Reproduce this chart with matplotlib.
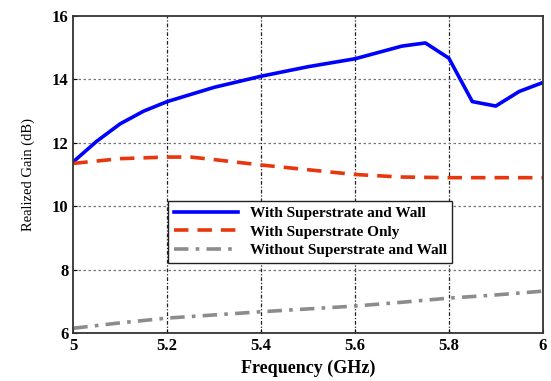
import numpy as np
import matplotlib.pyplot as plt

# frequency samples (GHz) and realized gain (dB)
f_wall = [5.0, 5.05, 5.1, 5.15, 5.2, 5.3, 5.4, 5.5, 5.6, 5.7, 5.75, 5.8, 5.85, 5.9, 5.95, 6.0]
g_wall = [11.4, 12.05, 12.6, 13.0, 13.3, 13.75, 14.1, 14.4, 14.65, 15.05, 15.15, 14.67, 13.3, 13.16, 13.62, 13.9]

f_sup = [5.0, 5.1, 5.2, 5.25, 5.3, 5.4, 5.5, 5.6, 5.7, 5.8, 5.9, 6.0]
g_sup = [11.35, 11.5, 11.55, 11.55, 11.47, 11.3, 11.15, 11.0, 10.92, 10.9, 10.9, 10.9]

f_none = [5.0, 5.1, 5.2, 5.3, 5.4, 5.5, 5.6, 5.7, 5.8, 5.9, 6.0]
g_none = [6.15, 6.32, 6.47, 6.57, 6.67, 6.76, 6.85, 6.97, 7.1, 7.2, 7.32]

plt.rcParams['font.family'] = ['Liberation Serif', 'DejaVu Serif']

fig, ax = plt.subplots(figsize=(5.51, 3.81), dpi=100)
fig.subplots_adjust(left=0.133, right=0.985, top=0.958, bottom=0.126)

ax.plot(f_wall, g_wall, color='#0000ff', lw=2.6, label='With Superstrate and Wall')
ax.plot(f_sup, g_sup, color='#e8360e', lw=2.6, dashes=(4, 2.5), label='With Superstrate Only')
ax.plot(f_none, g_none, color='#8c8c8c', lw=2.6, dashes=(4, 2, 1, 2), label='Without Superstrate and Wall')

ax.set_xlim(5, 6)
ax.set_ylim(6, 16)
ax.set_xticks([5, 5.2, 5.4, 5.6, 5.8, 6])
ax.set_xticklabels(['5', '5.2', '5.4', '5.6', '5.8', '6'])
ax.set_yticks([6, 8, 10, 12, 14, 16])

for x in [5.2, 5.4, 5.6, 5.8]:
    ax.axvline(x, color='#222222', lw=0.9, ls=(0, (3, 1.5, 1, 1.5)), zorder=0)
for y in [8, 10, 12, 14]:
    ax.axhline(y, color='#777777', lw=0.9, ls=(0, (2, 2)), zorder=0)

ax.tick_params(labelsize=12, direction='in', length=3)
for lab in ax.get_xticklabels() + ax.get_yticklabels():
    lab.set_fontweight('bold')

ax.set_xlabel('Frequency (GHz)', fontsize=13, fontweight='bold', labelpad=4)
ax.set_ylabel('Realized Gain (dB)', fontsize=10.5, labelpad=12)

for s in ax.spines.values():
    s.set_linewidth(1.3)
    s.set_color('#333333')

leg = ax.legend(loc='upper left', bbox_to_anchor=(0.186, 0.44),
                prop={'weight': 'bold', 'size': 11}, frameon=True, fancybox=False,
                handlelength=4.2, borderpad=0.35, labelspacing=0.32,
                edgecolor='#222222', framealpha=1)
leg.get_frame().set_linewidth(1.0)

fig.savefig('out.png', dpi=100)
